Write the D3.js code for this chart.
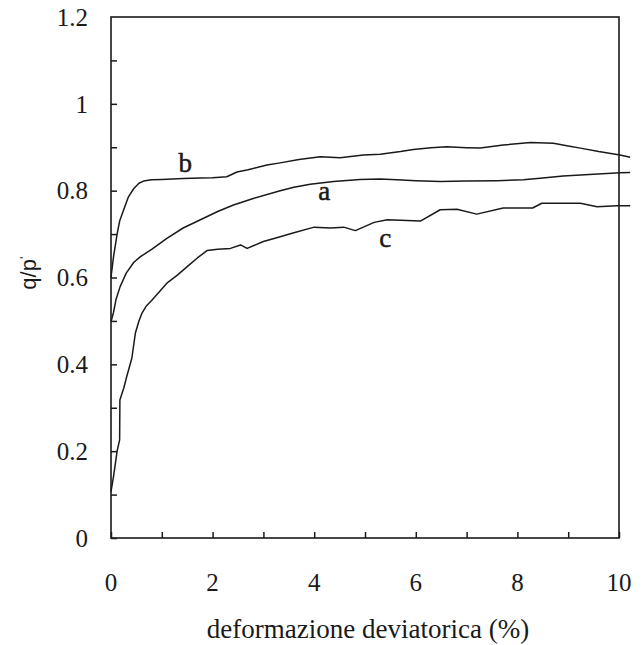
<!DOCTYPE html>
<html>
<head>
<meta charset="utf-8">
<script src="https://cdn.jsdelivr.net/npm/d3@7"></script>
<style>
  body { margin: 0; background: #fff; }
</style>
</head>
<body>
<script>
// q/p' vs deviatoric strain (%), three tests a, b, c
var xTicks = [0, 2, 4, 6, 8, 10],
    yTicks = [0, 0.2, 0.4, 0.6, 0.8, 1, 1.2],
    yTickLabels = ['0', '0.2', '0.4', '0.6', '0.8', '1', '1.2'];

var curveA = [[0, 0.498], [0.05, 0.52], [0.1, 0.55], [0.18, 0.579], [0.3, 0.61], [0.45, 0.635],
    [0.58, 0.648], [0.8, 0.665], [1.1, 0.69], [1.42, 0.714], [1.76, 0.733], [2.1, 0.752],
    [2.41, 0.767], [2.8, 0.782], [3.33, 0.8], [3.6, 0.808], [3.92, 0.815], [4.38, 0.821],
    [4.9, 0.826], [5.3, 0.827], [5.63, 0.825], [6.0, 0.823], [6.48, 0.821], [7.0, 0.822],
    [7.6, 0.823], [8.12, 0.825], [8.5, 0.829], [8.9, 0.834], [9.5, 0.838], [10.02, 0.841],
    [10.22, 0.842]];

var curveB = [[0, 0.6], [0.05, 0.648], [0.12, 0.7], [0.17, 0.73], [0.25, 0.756], [0.34, 0.785],
    [0.45, 0.805], [0.55, 0.817], [0.64, 0.822], [0.8, 0.825], [1.0, 0.826], [1.42, 0.828],
    [1.76, 0.829], [2.0, 0.83], [2.28, 0.832], [2.48, 0.843], [2.7, 0.848], [3.07, 0.859],
    [3.33, 0.864], [3.7, 0.872], [4.12, 0.878], [4.32, 0.877], [4.51, 0.876], [4.97, 0.882],
    [5.3, 0.884], [5.7, 0.89], [5.95, 0.895], [6.3, 0.899], [6.61, 0.901], [7.0, 0.899],
    [7.27, 0.898], [7.72, 0.905], [8.26, 0.911], [8.71, 0.909], [9.0, 0.903], [9.24, 0.898],
    [9.6, 0.89], [10.02, 0.882], [10.22, 0.877]];

var curveC = [[0, 0.107], [0.05, 0.142], [0.09, 0.175], [0.12, 0.2], [0.17, 0.226], [0.175, 0.318],
    [0.25, 0.345], [0.31, 0.372], [0.41, 0.414], [0.48, 0.472], [0.55, 0.5], [0.61, 0.518],
    [0.7, 0.535], [0.8, 0.547], [1.1, 0.587], [1.3, 0.605], [1.5, 0.625], [1.7, 0.645],
    [1.89, 0.662], [2.1, 0.665], [2.35, 0.667], [2.55, 0.675], [2.68, 0.667], [3.0, 0.683],
    [3.33, 0.694], [3.6, 0.703], [4.0, 0.716], [4.32, 0.714], [4.58, 0.716], [4.81, 0.708],
    [5.18, 0.727], [5.44, 0.733], [6.09, 0.73], [6.48, 0.756], [6.81, 0.757], [7.2, 0.746],
    [7.72, 0.76], [8.3, 0.76], [8.48, 0.771], [9.24, 0.771], [9.57, 0.763], [9.96, 0.765],
    [10.22, 0.765]];

var curveLabels = [
    {name: 'a', x: 4.2, y: 0.778},
    {name: 'b', x: 1.46, y: 0.843},
    {name: 'c', x: 5.4, y: 0.671}
];

var width = 643, height = 645,
    margin = {top: 17, right: 24, bottom: 107, left: 111},
    ink = '#1a1a1a',
    serif = "'Liberation Serif', 'Times New Roman', Times, serif";

var svg = d3.select('body').append('svg')
    .attr('width', width)
    .attr('height', height)
    .style('font-family', serif);

var x = d3.scaleLinear().domain([0, 10]).range([margin.left, width - margin.right]),
    y = d3.scaleLinear().domain([0, 1.2]).range([height - margin.bottom, margin.top]);

// frame
svg.append('rect')
    .attr('x', x(0)).attr('y', y(1.2))
    .attr('width', x(10) - x(0)).attr('height', y(0) - y(1.2))
    .attr('fill', 'none').attr('stroke', ink).attr('stroke-width', 1.6);

// bottom axis, ticks pointing in
var xAxis = svg.append('g')
    .attr('transform', 'translate(0,' + y(0) + ')')
    .call(d3.axisBottom(x).tickValues(d3.range(0, 11, 1)).tickSize(-6).tickPadding(0).tickFormat(''));
xAxis.select('.domain').remove();
xAxis.selectAll('line').attr('stroke', ink).attr('stroke-width', 1.5);

svg.append('g').selectAll('text')
    .data(xTicks)
    .enter().append('text')
    .attr('x', function (d) { return x(d); })
    .attr('y', y(0) + 53)
    .attr('text-anchor', 'middle')
    .style('font-size', '25px')
    .attr('fill', ink)
    .text(function (d) { return d; });

// left axis, ticks pointing in
var yAxis = svg.append('g')
    .attr('transform', 'translate(' + x(0) + ',0)')
    .call(d3.axisLeft(y).tickValues(d3.range(0, 12).map(function (i) { return i / 10; }))
        .tickSize(-6).tickFormat(''));
yAxis.select('.domain').remove();
yAxis.selectAll('line').attr('stroke', ink).attr('stroke-width', 1.5);

svg.append('g').selectAll('text')
    .data(yTicks)
    .enter().append('text')
    .attr('x', x(0) - 23)
    .attr('y', function (d) { return y(d); })
    .attr('dy', '0.35em')
    .attr('text-anchor', 'end')
    .style('font-size', '25px')
    .attr('fill', ink)
    .text(function (d, i) { return yTickLabels[i]; });

// curves
var line = d3.line()
    .x(function (d) { return x(d[0]); })
    .y(function (d) { return y(d[1]); });

svg.append('g').selectAll('path')
    .data([curveA, curveB, curveC])
    .enter().append('path')
    .attr('d', line)
    .attr('fill', 'none')
    .attr('stroke', ink)
    .attr('stroke-width', 1.5)
    .attr('stroke-linejoin', 'round');

svg.append('g').selectAll('text')
    .data(curveLabels)
    .enter().append('text')
    .attr('x', function (d) { return x(d.x); })
    .attr('y', function (d) { return y(d.y); })
    .attr('text-anchor', 'middle')
    .style('font-size', '27px')
    .attr('fill', ink)
    .attr('stroke', ink)
    .attr('stroke-width', 0.5)
    .text(function (d) { return d.name; });

// axis titles
svg.append('text')
    .attr('x', (x(0) + x(10)) / 2 + 3)
    .attr('y', 638)
    .attr('text-anchor', 'middle')
    .style('font-size', '27px')
    .attr('fill', ink)
    .text('deformazione deviatorica (%)');

var yTitle = svg.append('text')
    .attr('transform', 'translate(36,' + y(0.61) + ') rotate(-90)')
    .attr('text-anchor', 'middle')
    .style('font-family', "'Liberation Sans', Arial, sans-serif")
    .style('font-size', '22px')
    .attr('fill', ink);
yTitle.append('tspan').text('q/p');
yTitle.append('tspan').attr('dy', -7).style('font-size', '13px').text('\'');
</script>
</body>
</html>
